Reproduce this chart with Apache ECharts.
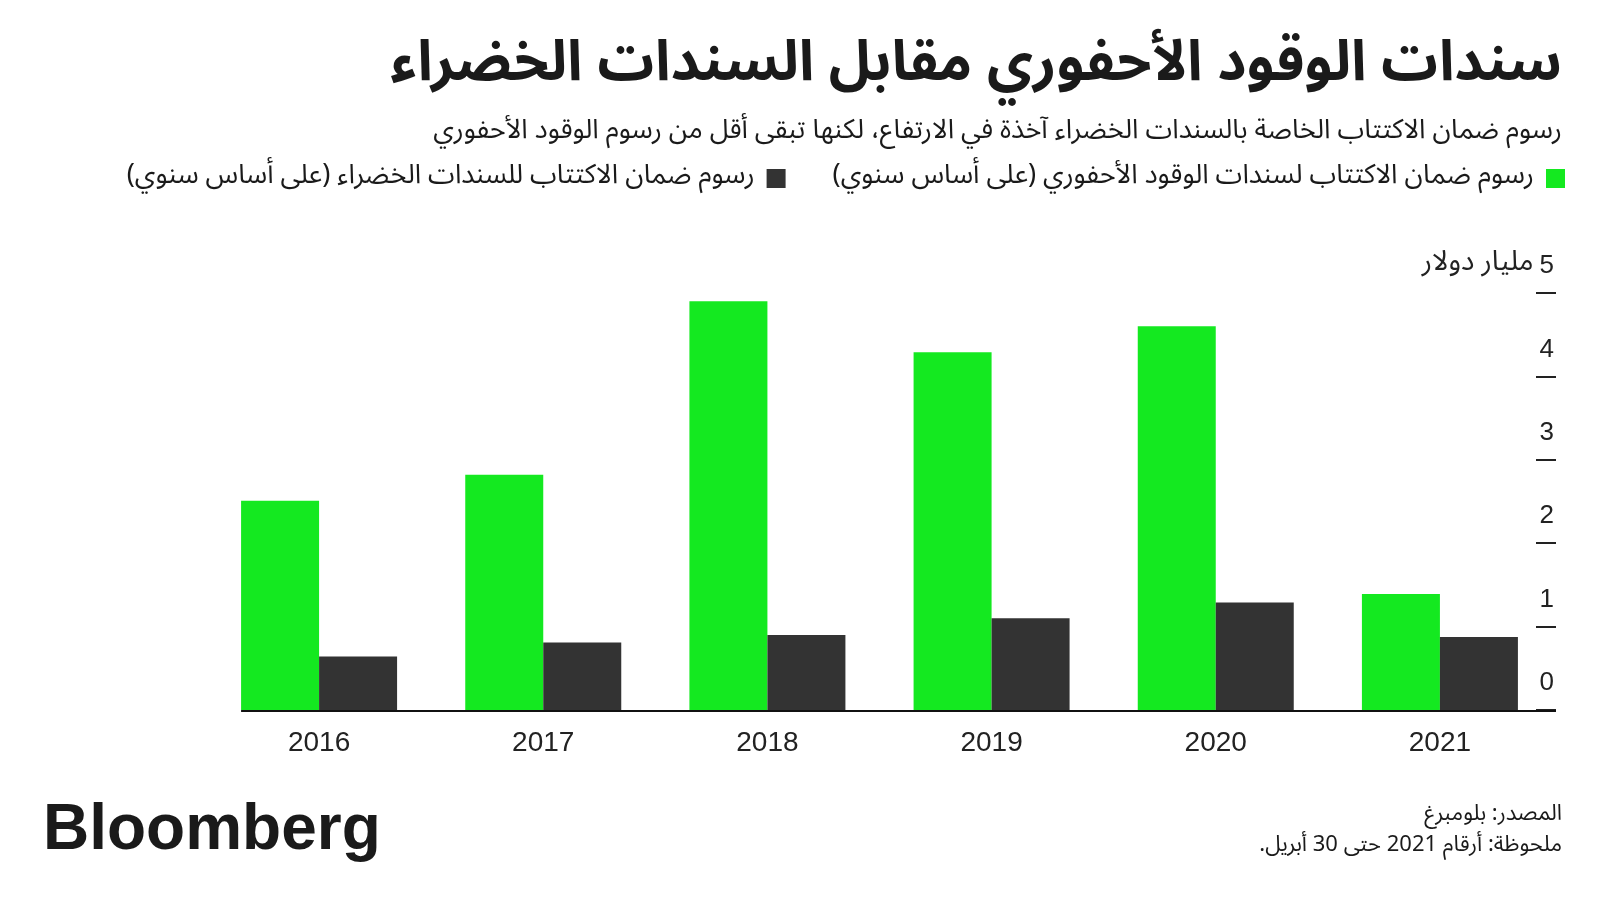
<!DOCTYPE html>
<html>
<head>
<meta charset="utf-8">
<script src="https://cdn.jsdelivr.net/npm/echarts@6/dist/echarts.min.js"></script>
<style>
html,body{margin:0;padding:0;background:#fff;}
#c{width:1600px;height:900px;direction:rtl;}
</style>
</head>
<body>
<div id="c"></div>
<script>
// ---- data ----
const categories = ['2016', '2017', '2018', '2019', '2020', '2021'];
const fossilFees = [2.51, 2.82, 4.90, 4.29, 4.60, 1.39];
const greenFees = [0.64, 0.81, 0.90, 1.10, 1.29, 0.875];
const fossilName = 'رسوم ضمان الاكتتاب لسندات الوقود الأحفوري (على أساس سنوي)';
const greenName = 'رسوم ضمان الاكتتاب للسندات الخضراء (على أساس سنوي)';
const yTicks = [0, 1, 2, 3, 4, 5];
const unitLabel = 'مليار دولار';
const titleText = 'سندات الوقود الأحفوري مقابل السندات الخضراء';
const subtitleText = 'رسوم ضمان الاكتتاب الخاصة بالسندات الخضراء آخذة في الارتفاع، لكنها تبقى أقل من رسوم الوقود الأحفوري';
const sourceText = 'المصدر: بلومبرغ';
const noteText = 'ملحوظة: أرقام 2021 حتى 30 أبريل.';
const brandText = 'Bloomberg';

const AR = "'Noto Sans Arabic', 'DejaVu Sans', sans-serif";
const LAT = "'Liberation Sans', Arial, sans-serif";
const GREEN = '#14e920';
const DARK = '#333333';
const BAR_W = 78;

const chart = echarts.init(document.getElementById('c'), null, {renderer: 'canvas'});
const option = {
  backgroundColor: '#ffffff',
  animation: false,
  title: [
    {text: titleText, right: 33, top: 30,
     textStyle: {fontFamily: AR, fontSize: 56.5, fontWeight: 'bold', color: '#1a1a1a', lineHeight: 72}},
    {text: subtitleText, right: 33, top: 111,
     textStyle: {fontFamily: AR, fontSize: 27, fontWeight: 'normal', color: '#1a1a1a', lineHeight: 36}},
    {text: sourceText, right: 33, top: 797,
     textStyle: {fontFamily: AR, fontSize: 22, fontWeight: 'normal', color: '#1a1a1a', lineHeight: 30}},
    {text: noteText, right: 33, top: 828,
     textStyle: {fontFamily: AR, fontSize: 22, fontWeight: 'normal', color: '#1a1a1a', lineHeight: 30}},
    {text: brandText, left: 38, top: 790,
     textStyle: {fontFamily: LAT, fontSize: 64, fontWeight: 'bold', color: '#1a1a1a', lineHeight: 72}}
  ],
  legend: {
    data: [greenName, fossilName],
    right: 30, top: 160, align: 'right', orient: 'horizontal',
    icon: 'rect', itemWidth: 19, itemHeight: 19, itemGap: 47,
    textStyle: {fontFamily: AR, fontSize: 27, color: '#1a1a1a', padding: [0, 7, 0, 0]}
  },
  grid: {left: 207, right: 48, top: 293, bottom: 190, containLabel: false},
  xAxis: {
    type: 'category', data: categories,
    axisLine: {show: false}, axisTick: {show: false},
    axisLabel: {fontFamily: LAT, fontSize: 28, color: '#222', margin: 19}
  },
  yAxis: {
    type: 'value', min: yTicks[0], max: yTicks[yTicks.length - 1], interval: 1,
    position: 'right', offset: 4,
    axisLine: {show: false},
    axisTick: {show: true, inside: true, length: 20, lineStyle: {color: '#222', width: 2}},
    splitLine: {show: false},
    axisLabel: {
      inside: true, margin: 2, fontFamily: LAT, fontSize: 26, color: '#222',
      verticalAlign: 'middle', padding: [0, 0, 54, 0],
      formatter: function (v) { return v === yTicks[yTicks.length - 1] ? '{u|' + unitLabel + '}{n|' + v + '}' : String(v); },
      rich: {
        u: {fontFamily: AR, fontSize: 28, color: '#222', padding: [0, 6, 0, 0]},
        n: {fontFamily: LAT, fontSize: 26, color: '#222'}
      }
    }
  },
  series: [
    {name: fossilName, type: 'bar', data: fossilFees, barWidth: BAR_W, barGap: '0%',
     itemStyle: {color: GREEN}},
    {name: greenName, type: 'bar', data: greenFees, barWidth: BAR_W, barGap: '0%',
     itemStyle: {color: DARK}}
  ]
};
chart.setOption(option);

// baseline drawn from the library's scales
const c0 = chart.convertToPixel({xAxisIndex: 0}, categories[0]);
const c1 = chart.convertToPixel({xAxisIndex: 0}, categories[1]);
const cl = chart.convertToPixel({xAxisIndex: 0}, categories[categories.length - 1]);
const y0 = chart.convertToPixel({yAxisIndex: 0}, 0);
const band = c1 - c0;
chart.setOption({
  graphic: [{
    type: 'line', z: 10,
    shape: {x1: c0 - BAR_W, y1: y0 + 1, x2: cl + band / 2 + 4, y2: y0 + 1},
    style: {stroke: '#111', lineWidth: 2}
  }]
});
</script>
</body>
</html>
